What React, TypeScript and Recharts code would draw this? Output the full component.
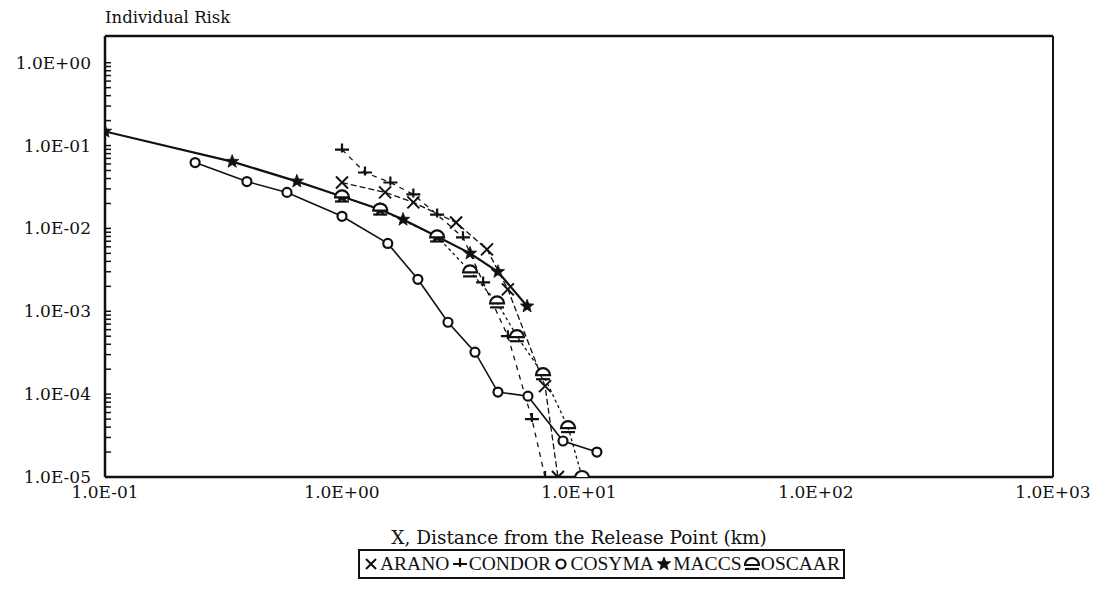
import React from 'react';
import { LineChart, Line, XAxis, YAxis, Legend, ReferenceLine } from 'recharts';

// ---------- axis ticks / labels ----------
const xTicks = [0.1, 1, 10, 100, 1000];
const xTickLabels = ['1.0E-01', '1.0E+00', '1.0E+01', '1.0E+02', '1.0E+03'];
const yMajorTicks = [1e-5, 1e-4, 1e-3, 1e-2, 1e-1, 1];
const yTickLabels = ['1.0E-05', '1.0E-04', '1.0E-03', '1.0E-02', '1.0E-01', '1.0E+00'];
const yDecadeExponents = [-5, -4, -3, -2, -1];
const yMinorMultipliers = [2, 3, 4, 5, 6, 7, 8, 9];

// ---------- series data (distance km, individual risk) ----------
const aranoX = [1.0, 1.52, 2.0, 3.03, 4.09, 5.01, 7.19, 8.15];
const aranoY = [0.0358, 0.0272, 0.0206, 0.0118, 0.00558, 0.00184, 0.000125, 0.00001];

const condorX = [1.0, 1.25, 1.6, 2.0, 2.52, 3.24, 3.94, 5.01, 6.33, 7.19];
const condorY = [0.0895, 0.0473, 0.0358, 0.0257, 0.0147, 0.0078, 0.00223, 0.0005, 0.00005, 0.00001];

const cosymaX = [0.24, 0.397, 0.586, 1.0, 1.56, 2.09, 2.8, 3.64, 4.55, 6.09, 8.56, 11.9];
const cosymaY = [0.0624, 0.0368, 0.0272, 0.014, 0.00659, 0.00243, 0.000737, 0.000321, 0.000106, 0.0000946, 0.0000272, 0.00002];

const maccsX = [0.1, 0.344, 0.645, 1.0, 1.45, 1.81, 2.52, 3.47, 4.55, 6.04];
const maccsY = [0.148, 0.064, 0.037, 0.0243, 0.0169, 0.0128, 0.008, 0.005, 0.003, 0.00115];

const oscaarX = [1.0, 1.45, 2.52, 3.47, 4.51, 5.47, 7.05, 8.99, 10.3];
const oscaarY = [0.0243, 0.0169, 0.008, 0.00303, 0.00128, 0.0005, 0.000174, 0.00004, 0.00001];

const seriesNames = ['ARANO', 'CONDOR', 'COSYMA', 'MACCS', 'OSCAAR'];

const zip = (xs: number[], ys: number[]) => xs.map((x, i) => ({ x, y: ys[i] }));
const aranoData = zip(aranoX, aranoY);
const condorData = zip(condorX, condorY);
const cosymaData = zip(cosymaX, cosymaY);
const maccsData = zip(maccsX, maccsY);
const oscaarData = zip(oscaarX, oscaarY);

const yAllTicks: number[] = [];
yDecadeExponents.forEach((e) => {
  yAllTicks.push(Math.pow(10, e));
  yMinorMultipliers.forEach((m) => yAllTicks.push(m * Math.pow(10, e)));
});
yAllTicks.push(1);

const X_MAX = 1000;
const Y_MAX = 2.1;
const INK = '#111';
const FONT = '"DejaVu Serif", "Liberation Serif", serif';
const LEGEND_FONT = '"Liberation Serif", "DejaVu Serif", serif';

// ---------- markers ----------
const XMark = ({ cx, cy, s = 6 }: any) => (
  <path d={`M${cx - s},${cy - s}L${cx + s},${cy + s}M${cx - s},${cy + s}L${cx + s},${cy - s}`} stroke={INK} strokeWidth={2} fill="none" />
);
const CondorMark = ({ cx, cy }: any) => (
  <path d={`M${cx - 7},${cy}L${cx + 7},${cy}M${cx},${cy - 6}L${cx},${cy + 3}`} stroke={INK} strokeWidth={2.2} fill="none" />
);
const CircleMark = ({ cx, cy }: any) => (
  <circle cx={cx} cy={cy} r={4.5} stroke={INK} strokeWidth={2.2} fill="#fff" />
);
const starPath = (cx: number, cy: number, R: number) => {
  const pts: string[] = [];
  for (let i = 0; i < 10; i++) {
    const r = i % 2 === 0 ? R : R * 0.42;
    const a = -Math.PI / 2 + (i * Math.PI) / 5;
    pts.push(`${cx + r * Math.cos(a)},${cy + r * Math.sin(a)}`);
  }
  return `M${pts.join('L')}Z`;
};
const StarMark = ({ cx, cy }: any) => <path d={starPath(cx, cy, 7)} fill={INK} stroke={INK} strokeWidth={0.8} />;
const DomeMark = ({ cx, cy }: any) => (
  <g>
    <path d={`M${cx - 7},${cy + 1}A7,7 0 0 1 ${cx + 7},${cy + 1}Z`} stroke={INK} strokeWidth={2.2} fill="#fff" />
    <path d={`M${cx - 7},${cy + 5}L${cx + 7},${cy + 5}`} stroke={INK} strokeWidth={2.2} />
  </g>
);

const mk = (C: any) => (p: any) => <C key={`m${p.index}`} cx={p.cx} cy={p.cy} />;

// ---------- ticks ----------
const YTick = (props: any) => {
  const { x, y, payload } = props;
  const v = payload.value;
  const idx = yMajorTicks.findIndex((t) => Math.abs(Math.log10(t) - Math.log10(v)) < 1e-6);
  return (
    <g>
      <line x1={x} x2={x + 6} y1={y} y2={y} stroke={INK} strokeWidth={1.5} />
      {idx >= 0 && (
        <text x={x - 14} y={y} dy="0.35em" textAnchor="end" fontFamily={FONT} fontSize={17} fill={INK}>
          {yTickLabels[idx]}
        </text>
      )}
    </g>
  );
};

const XTick = (props: any) => {
  const { x, y, payload } = props;
  const idx = xTicks.findIndex((t) => Math.abs(Math.log10(t) - Math.log10(payload.value)) < 1e-6);
  return (
    <text x={x} y={y + 21} textAnchor="middle" fontFamily={FONT} fontSize={17} fill={INK}>
      {idx >= 0 ? xTickLabels[idx] : ''}
    </text>
  );
};

const legendMarks = [XMark, CondorMark, CircleMark, StarMark, DomeMark];

const LegendBox = () => (
  <div
    style={{
      border: `2px solid ${INK}`,
      height: 30,
      display: 'flex',
      alignItems: 'center',
      justifyContent: 'space-between',
      padding: '0 3px',
      boxSizing: 'border-box',
      width: 487,
      fontFamily: LEGEND_FONT,
      fontSize: 19.5,
      color: INK,
      background: '#fff',
      whiteSpace: 'nowrap',
    }}
  >
    {seriesNames.map((n, i) => {
      const M = legendMarks[i];
      return (
        <span key={n} style={{ display: 'flex', alignItems: 'center' }}>
          <svg width={16} height={18} style={{ marginRight: 1 }}>
            <M cx={8} cy={9} s={5} />
          </svg>
          {n}
        </span>
      );
    })}
  </div>
);

const W = 1085;
const H = 581;

export default function App() {
  return (
    <div style={{ width: W, height: H, position: 'relative', background: '#fff' }}>
      <LineChart width={W} height={H} margin={{ top: 28, right: 40, bottom: 82, left: 0 }}>
        <XAxis
          dataKey="x"
          type="number"
          scale="log"
          domain={[0.1, X_MAX]}
          ticks={xTicks}
          allowDataOverflow
          height={30}
          tickSize={0}
          tickMargin={0}
          tickLine={false}
          axisLine={{ stroke: INK, strokeWidth: 2.5 }}
          tick={<XTick />}
          label={() => (
            <text x={571} y={536} textAnchor="middle" fontFamily={FONT} fontSize={18.5} fill={INK}>
              X, Distance from the Release Point (km)
            </text>
          )}
        />
        <YAxis
          dataKey="y"
          type="number"
          scale="log"
          domain={[0.00001, Y_MAX]}
          ticks={yAllTicks}
          interval={0}
          allowDataOverflow
          width={97}
          tickSize={0}
          tickMargin={0}
          tickLine={false}
          axisLine={{ stroke: INK, strokeWidth: 2.5 }}
          tick={<YTick />}
          label={() => (
            <text x={97} y={15} textAnchor="start" fontFamily={FONT} fontSize={16.5} fill={INK}>
              Individual Risk
            </text>
          )}
        />
        <ReferenceLine x={X_MAX} stroke={INK} strokeWidth={2} ifOverflow="visible" />
        <ReferenceLine y={Y_MAX} stroke={INK} strokeWidth={2.5} ifOverflow="visible" />
        <Line data={aranoData} dataKey="y" name="ARANO" stroke={INK} strokeWidth={1.3} strokeDasharray="6 3" dot={mk(XMark)} isAnimationActive={false} legendType="none" />
        <Line data={condorData} dataKey="y" name="CONDOR" stroke={INK} strokeWidth={1.3} strokeDasharray="5 5" dot={mk(CondorMark)} isAnimationActive={false} legendType="none" />
        <Line data={cosymaData} dataKey="y" name="COSYMA" stroke={INK} strokeWidth={1.6} dot={mk(CircleMark)} isAnimationActive={false} legendType="none" />
        <Line data={maccsData} dataKey="y" name="MACCS" stroke={INK} strokeWidth={2.2} dot={mk(StarMark)} isAnimationActive={false} legendType="none" />
        <Line data={oscaarData} dataKey="y" name="OSCAAR" stroke={INK} strokeWidth={1.3} strokeDasharray="3 3" dot={mk(DomeMark)} isAnimationActive={false} legendType="none" />
        <Legend
          layout="horizontal"
          verticalAlign="middle"
          align="center"
          content={() => <LegendBox />}
          wrapperStyle={{ position: 'absolute', left: 350, top: 541, width: 487, height: 30 }}
        />
      </LineChart>
    </div>
  );
}
